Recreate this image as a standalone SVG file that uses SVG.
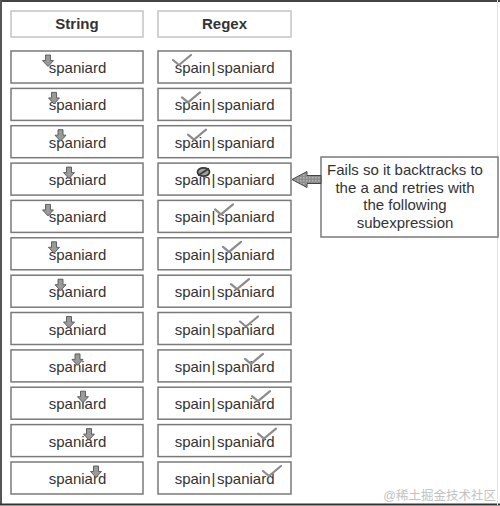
<svg xmlns="http://www.w3.org/2000/svg" width="500" height="506" viewBox="0 0 500 506">
<defs>
<style>
.hdr{fill:#fff;stroke:#c4c4c4;stroke-width:1.5}
.box{fill:#fff;stroke:#7a7a7a;stroke-width:1.5}
.ht{font-family:"Liberation Sans",Arial,sans-serif;font-weight:bold;font-size:15px;fill:#333;text-anchor:middle}
.t{font-family:"Liberation Sans",Arial,sans-serif;font-size:15px;fill:#333;text-anchor:middle}
.a{font-family:"Liberation Sans",Arial,sans-serif;font-size:15px;fill:#333;text-anchor:end}
.p{font-family:"Liberation Sans",Arial,sans-serif;font-size:15px;fill:#333;text-anchor:middle}
.b{font-family:"Liberation Sans",Arial,sans-serif;font-size:15px;fill:#333;text-anchor:start}
.ct{font-family:"Liberation Sans",Arial,sans-serif;font-size:15px;fill:#333;text-anchor:middle}
.arr{fill:#9a9a9a;stroke:#555;stroke-width:0.9;stroke-linejoin:miter}
.chk{fill:none;stroke:#8c8c8c;stroke-width:2.2;stroke-linecap:round;stroke-linejoin:round}
</style>
<path id="dn" class="arr" d="M-2.5,0 h5 v5.5 h3 l-5.5,6 l-5.5,-6 h3 z"/>
<path id="ck" class="chk" d="M0,5 L6,10 L18,0"/>
<pattern id="dots" width="3" height="3" patternUnits="userSpaceOnUse">
<rect width="3" height="3" fill="#8e8e8e"/>
<rect width="1.5" height="1.5" fill="#b5b5b5"/>
</pattern>
</defs>
<rect width="500" height="506" fill="#fff"/>
<g id="frame" fill="none">
<line x1="0" y1="1" x2="500" y2="1" stroke="#444" stroke-width="2"/>
<line x1="1" y1="0" x2="1" y2="505" stroke="#555" stroke-width="2"/>
<line x1="0" y1="504.5" x2="500" y2="504.5" stroke="#333" stroke-width="2"/>
<line x1="497.5" y1="0" x2="497.5" y2="505" stroke="#e2e2e2" stroke-width="1"/>
</g>
<g id="hdr-string"><rect class="hdr" x="11" y="11" width="132" height="26"/><text class="ht" x="77" y="29">String</text></g>
<g id="hdr-regex"><rect class="hdr" x="158" y="11" width="133" height="26"/><text class="ht" x="224.5" y="29">Regex</text></g>

<g id="s1"><rect class="box" x="11" y="51" width="132" height="32"/><text class="t" x="77.5" y="73">spaniard</text><use href="#dn" x="48" y="55"/></g>
<g id="r1"><rect class="box" x="158" y="51" width="133" height="32"/><text y="73"><tspan class="a" x="210.5">spain</tspan><tspan class="p" x="213.5">|</tspan><tspan class="b" x="217">spaniard</tspan></text><use href="#ck" x="173" y="55"/></g>

<g id="s2"><rect class="box" x="11" y="88.4" width="132" height="32"/><text class="t" x="77.5" y="110.4">spaniard</text><use href="#dn" x="54" y="92.4"/></g>
<g id="r2"><rect class="box" x="158" y="88.4" width="133" height="32"/><text y="110.4"><tspan class="a" x="210.5">spain</tspan><tspan class="p" x="213.5">|</tspan><tspan class="b" x="217">spaniard</tspan></text><use href="#ck" x="182" y="92.4"/></g>

<g id="s3"><rect class="box" x="11" y="125.7" width="132" height="32"/><text class="t" x="77.5" y="147.7">spaniard</text><use href="#dn" x="60.5" y="129.7"/></g>
<g id="r3"><rect class="box" x="158" y="125.7" width="133" height="32"/><text y="147.7"><tspan class="a" x="210.5">spain</tspan><tspan class="p" x="213.5">|</tspan><tspan class="b" x="217">spaniard</tspan></text><use href="#ck" x="188" y="129.7"/></g>

<g id="s4"><rect class="box" x="11" y="163.1" width="132" height="32"/><text class="t" x="77.5" y="185.1">spaniard</text><use href="#dn" x="69" y="167.1"/></g>
<g id="r4"><rect class="box" x="158" y="163.1" width="133" height="32"/><text y="185.1"><tspan class="a" x="210.5">spain</tspan><tspan class="p" x="213.5">|</tspan><tspan class="b" x="217">spaniard</tspan></text>
<ellipse cx="203.5" cy="172" rx="6" ry="4.2" fill="#a0a0a0" stroke="#3a3a3a" stroke-width="1.8"/><line x1="198" y1="175.5" x2="209" y2="168.5" stroke="#3a3a3a" stroke-width="1.6"/></g>

<g id="s5"><rect class="box" x="11" y="200.4" width="132" height="32"/><text class="t" x="77.5" y="222.4">spaniard</text><use href="#dn" x="48" y="204.4"/></g>
<g id="r5"><rect class="box" x="158" y="200.4" width="133" height="32"/><text y="222.4"><tspan class="a" x="210.5">spain</tspan><tspan class="p" x="213.5">|</tspan><tspan class="b" x="217">spaniard</tspan></text><use href="#ck" x="215" y="204.4"/></g>

<g id="s6"><rect class="box" x="11" y="237.8" width="132" height="32"/><text class="t" x="77.5" y="259.8">spaniard</text><use href="#dn" x="54" y="241.8"/></g>
<g id="r6"><rect class="box" x="158" y="237.8" width="133" height="32"/><text y="259.8"><tspan class="a" x="210.5">spain</tspan><tspan class="p" x="213.5">|</tspan><tspan class="b" x="217">spaniard</tspan></text><use href="#ck" x="223" y="241.8"/></g>

<g id="s7"><rect class="box" x="11" y="275.2" width="132" height="32"/><text class="t" x="77.5" y="297.2">spaniard</text><use href="#dn" x="60.5" y="279.2"/></g>
<g id="r7"><rect class="box" x="158" y="275.2" width="133" height="32"/><text y="297.2"><tspan class="a" x="210.5">spain</tspan><tspan class="p" x="213.5">|</tspan><tspan class="b" x="217">spaniard</tspan></text><use href="#ck" x="231" y="279.2"/></g>

<g id="s8"><rect class="box" x="11" y="312.5" width="132" height="32"/><text class="t" x="77.5" y="334.5">spaniard</text><use href="#dn" x="69" y="316.5"/></g>
<g id="r8"><rect class="box" x="158" y="312.5" width="133" height="32"/><text y="334.5"><tspan class="a" x="210.5">spain</tspan><tspan class="p" x="213.5">|</tspan><tspan class="b" x="217">spaniard</tspan></text><use href="#ck" x="240" y="316.5"/></g>

<g id="s9"><rect class="box" x="11" y="349.9" width="132" height="32"/><text class="t" x="77.5" y="371.9">spaniard</text><use href="#dn" x="77.5" y="353.9"/></g>
<g id="r9"><rect class="box" x="158" y="349.9" width="133" height="32"/><text y="371.9"><tspan class="a" x="210.5">spain</tspan><tspan class="p" x="213.5">|</tspan><tspan class="b" x="217">spaniard</tspan></text><use href="#ck" x="245" y="353.9"/></g>

<g id="s10"><rect class="box" x="11" y="387.2" width="132" height="32"/><text class="t" x="77.5" y="409.2">spaniard</text><use href="#dn" x="83" y="391.2"/></g>
<g id="r10"><rect class="box" x="158" y="387.2" width="133" height="32"/><text y="409.2"><tspan class="a" x="210.5">spain</tspan><tspan class="p" x="213.5">|</tspan><tspan class="b" x="217">spaniard</tspan></text><use href="#ck" x="252" y="391.2"/></g>

<g id="s11"><rect class="box" x="11" y="424.6" width="132" height="32"/><text class="t" x="77.5" y="446.6">spaniard</text><use href="#dn" x="89" y="428.6"/></g>
<g id="r11"><rect class="box" x="158" y="424.6" width="133" height="32"/><text y="446.6"><tspan class="a" x="210.5">spain</tspan><tspan class="p" x="213.5">|</tspan><tspan class="b" x="217">spaniard</tspan></text><use href="#ck" x="258" y="428.6"/></g>

<g id="s12"><rect class="box" x="11" y="462" width="132" height="32"/><text class="t" x="77.5" y="484">spaniard</text><use href="#dn" x="96" y="466"/></g>
<g id="r12"><rect class="box" x="158" y="462" width="133" height="32"/><text y="484"><tspan class="a" x="210.5">spain</tspan><tspan class="p" x="213.5">|</tspan><tspan class="b" x="217">spaniard</tspan></text><use href="#ck" x="263" y="466"/></g>

<g id="callout"><rect class="box" x="321" y="157" width="177" height="80" stroke="#888"/>
<text class="ct" x="405" y="175">Fails so it backtracks to</text>
<text class="ct" x="405" y="192.5">the a and retries with</text>
<text class="ct" x="405" y="210">the following</text>
<text class="ct" x="405" y="227.5">subexpression</text></g>

<g id="connectors">
<path d="M321,175.5 H307 V171.5 L292,179.5 L307,187.5 V183.5 H321 Z" fill="url(#dots)" stroke="#444" stroke-width="1"/>
</g>

<text x="496" y="500" text-anchor="end" font-family="'Liberation Sans','Noto Sans CJK SC',sans-serif" font-size="12.5" fill="#c2c2c2">@稀土掘金技术社区</text>
</svg>
